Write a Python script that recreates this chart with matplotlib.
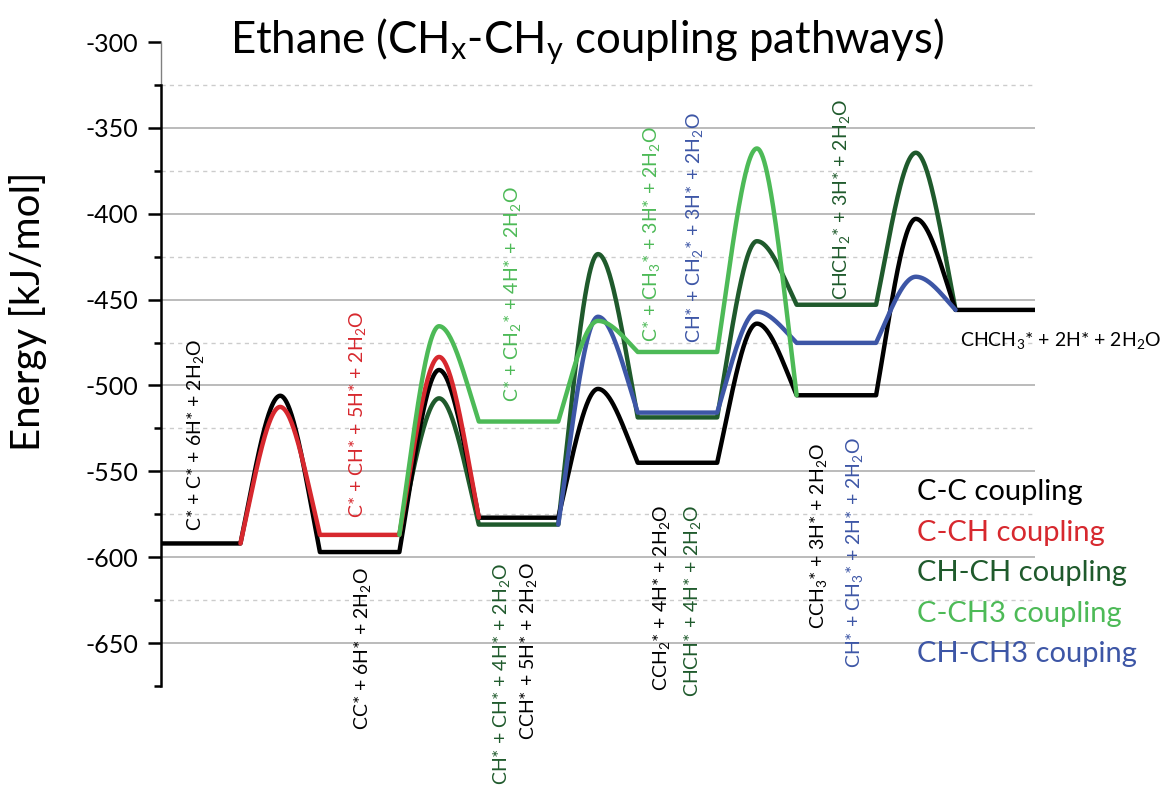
# 乙烷 CHx-CHy 偶联路径能量图

import matplotlib.pyplot as plt
import numpy as np

plt.rcParams['font.family'] = ['Lato', 'DejaVu Sans']
plt.rcParams['mathtext.fontset'] = 'custom'
plt.rcParams['mathtext.rm'] = 'Lato'
plt.rcParams['mathtext.it'] = 'Lato:italic'
plt.rcParams['mathtext.bf'] = 'Lato:bold'
plt.rcParams['axes.unicode_minus'] = False

# 各路径：平台能量（中间体）与过渡态能量，单位 kJ/mol
cc_levels = [-592, -597, -577, -545, -505.7, -456]
cc_ts = [-506, -491, -502, -464, -403]
c_ch_levels = [-592, -587, -577]
c_ch_ts = [-512.5, -483.4]
ch_ch_levels = [-587, -581, -518.6, -453, -456]
ch_ch_ts = [-507.5, -423.5, -416, -364.5]
c_ch3_levels = [-587, -521, -480.5, -505.7]
c_ch3_ts = [-465.5, -462.4, -362]
ch_ch3_levels = [-581, -515.8, -475.2, -456]
ch_ch3_ts = [-460, -457, -436.7]

names = ['C-C coupling', 'C-CH coupling', 'CH-CH coupling',
         'C-CH3 coupling', 'CH-CH3 couping']
colors = ['#000000', '#d7282e', '#1f5a2c', '#4dba57', '#3d56a6']
start_step = [0, 0, 1, 1, 2]   # 每条路径从第几个平台开始

# 中间体标签 (文本, x, y, 颜色, 垂直对齐)
labels = [
    ('C* + C* + 6H* + 2H$_2$O', 0.44, -585, 0, 'bottom'),
    ('CC* + 6H* + 2H$_2$O', 2.54, -606, 0, 'top'),
    ('C* + CH* + 5H* + 2H$_2$O', 2.47, -577, 1, 'bottom'),
    ('C* + CH$_2$* + 4H* + 2H$_2$O', 4.43, -509.5, 3, 'bottom'),
    ('CH* + CH* + 4H* + 2H$_2$O', 4.28, -603, 2, 'top'),
    ('CCH* + 5H* + 2H$_2$O', 4.62, -603, 0, 'top'),
    ('C* + CH$_3$* + 3H* + 2H$_2$O', 6.17, -474.5, 3, 'bottom'),
    ('CH* + CH$_2$* + 3H* + 2H$_2$O', 6.72, -475.5, 4, 'bottom'),
    ('CCH$_2$* + 4H* + 2H$_2$O', 6.30, -569.5, 0, 'top'),
    ('CHCH* + 4H* + 2H$_2$O', 6.69, -569, 2, 'top'),
    ('CHCH$_2$* + 3H* + 2H$_2$O', 8.56, -450.5, 2, 'bottom'),
    ('CCH$_3$* + 3H* + 2H$_2$O', 8.28, -533.5, 0, 'top'),
    ('CH* + CH$_3$* + 2H* + 2H$_2$O', 8.73, -530, 4, 'top'),
]


def half(t, m=1.3):
    # 三次 Hermite：起点斜率 m，峰顶斜率 0
    return (t**3 - 2 * t**2 + t) * m + (-2 * t**3 + 3 * t**2)


def build_path(start, levels, ts):
    xs, ys = [], []
    t = np.linspace(0, 1, 60)
    n = len(levels)
    for i, level in enumerate(levels):
        k = start + i
        if start == 0 and i == 0 and n == 6:
            xs += [2 * k, 2 * k + 1]
            ys += [level, level]
        elif 0 < i < n - 1 or (i == n - 1 and k == 5 and n == 6):
            xs += [2 * k, 2 * k + 1]
            ys += [level, level]
        if i < len(ts):
            peak = ts[i]
            nxt = levels[i + 1]
            xs += list(2 * k + 1 + 0.5 * t)
            ys += list(level + (peak - level) * half(t))
            xs += list(2 * k + 1.5 + 0.5 * t)
            ys += list(nxt + (peak - nxt) * half(1 - t))
    return xs, ys


fig = plt.figure(figsize=(11.66, 7.87), dpi=100)
ax = fig.add_axes([161 / 1166, 1 - 686 / 787, 874 / 1166, 644 / 787])

ax.set_xlim(0, 11)
ax.set_ylim(-675, -300)

major = np.arange(-650, -299, 50)
minor = np.arange(-675, -324, 50)
for v in major[:-1]:
    ax.axhline(v, color='#a8a8a8', lw=1.1, zorder=0)
for v in minor[1:]:
    ax.axhline(v, color='#cccccc', lw=1.0, ls=(0, (3, 3)), zorder=0)

series = [
    (cc_levels, cc_ts),
    (c_ch_levels, c_ch_ts),
    (ch_ch_levels, ch_ch_ts),
    (c_ch3_levels, c_ch3_ts),
    (ch_ch3_levels, ch_ch3_ts),
]
zorders = [3, 4, 2, 6, 5]
for (lv, ts), c, s, z in zip(series, colors, start_step, zorders):
    xs, ys = build_path(s, lv, ts)
    ax.plot(xs, ys, color=c, lw=3.2, solid_joinstyle='round',
            solid_capstyle='round', zorder=z)

# 坐标轴样式
for side in ['top', 'right', 'bottom']:
    ax.spines[side].set_visible(False)
ax.spines['left'].set_bounds(-675, -325)
ax.spines['left'].set_linewidth(1.8)
ax.vlines(0, -325, -300, color='#808080', lw=1.0, clip_on=False)
ax.set_xticks([])
ax.set_yticks(major)
ax.set_yticks(minor, minor=True)
ax.tick_params(axis='y', which='major', length=9.5, width=1.8,
               labelsize=18, pad=7)
ax.tick_params(axis='y', which='minor', length=5, width=1.8)
ax.set_ylabel('Energy [kJ/mol]', fontsize=29)
ax.yaxis.set_label_coords(-0.13, 0.582)

for text, x, y, ci, va in labels:
    ax.text(x, y, text, rotation=90, ha='center', va=va,
            color=colors[ci], fontsize=14)
ax.text(10.06, -473.7, 'CHCH$_3$* + 2H* + 2H$_2$O', ha='left',
        va='center', fontsize=14, color='black')

# 图例（彩色文字）
for i, (name, c) in enumerate(zip(names, colors)):
    ax.text(9.52, -562.2 - 23.6 * i, name, color=c, fontsize=21,
            ha='left', va='center')

fig.text(0.503, 0.947, 'Ethane (CH$_\\mathrm{x}$-CH$_\\mathrm{y}$ coupling pathways)',
         ha='center', va='center', fontsize=31.5)

fig.savefig('out.png', dpi=100)
